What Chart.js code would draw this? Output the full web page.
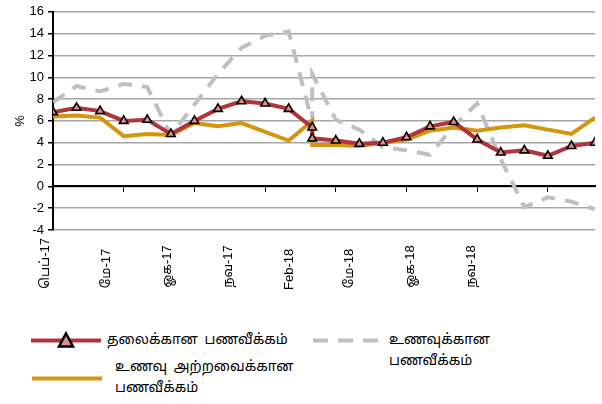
<!DOCTYPE html>
<html>
<head>
<meta charset="utf-8">
<script src="https://cdn.jsdelivr.net/npm/chart.js@4.4.1/dist/chart.umd.min.js"></script>
<style>
  body { margin: 0; background: #fff; }
  #wrap { position: relative; width: 602px; height: 404px; font-family: 'Noto Sans Tamil', 'Latha', 'Liberation Sans', sans-serif; }
  #chart { position: absolute; left: 0; top: 0; }
  .item { position: absolute; display: flex; font-size: 14px; color: #000; line-height: 21px; word-spacing: 3px; }
  .item svg { flex: none; }
</style>
</head>
<body>
<div id="wrap">
  <canvas id="chart" width="602" height="300"></canvas>
  <div id="legend"></div>
</div>
<script>
// observation months (Jan-18 appears twice: old and new index base)
const obsMonths = [
  '2017-02', '2017-03', '2017-04', '2017-05', '2017-06', '2017-07', '2017-08',
  '2017-09', '2017-10', '2017-11', '2017-12', '2018-01', '2018-01', '2018-02',
  '2018-03', '2018-04', '2018-05', '2018-06', '2018-07', '2018-08', '2018-09',
  '2018-10', '2018-11', '2018-12', '2019-01'
];
const headline = [6.8, 7.2, 6.9, 6.0, 6.1, 4.8, 6.0, 7.1, 7.8, 7.6, 7.1, 5.4, 4.4, 4.2, 3.9, 4.0, 4.5, 5.5, 5.9, 4.3, 3.1, 3.3, 2.8, 3.7, 4.0];
const food = [7.7, 9.2, 8.7, 9.4, 9.1, 4.7, 7.5, 10.3, 12.7, 13.8, 14.2, 5.9, 10.3, 6.1, 5.2, 3.6, 3.3, 2.9, 5.5, 7.6, 2.5, -1.9, -1.0, -1.4, -2.1];
const nonFood = [6.4, 6.5, 6.3, 4.6, 4.8, 4.7, 5.8, 5.5, 5.8, 5.0, 4.2, 6.0, 3.8, 3.8, 3.7, 4.0, 4.3, 5.1, 5.4, 5.1, 5.4, 5.6, 5.2, 4.8, 6.3];

const dateLabels = ['பெப்-17', 'மே-17', 'ஓக-17', 'நவ-17', 'Feb-18', 'மே-18', 'ஓக-18', 'நவ-18'];
const tickMonths = ['2017-05', '2017-08', '2017-11', '2018-02', '2018-05', '2018-08', '2018-11'];
const yTicks = { min: -4, max: 16, step: 2 };

const seriesNames = ['தலைக்கான பணவீக்கம்', 'உணவுக்கான பணவீக்கம்', 'உணவு அற்றவைக்கான பணவீக்கம்'];

function monthIndex(m) {
  const [y, mo] = m.split('-').map(Number);
  return (y - 2017) * 12 + (mo - 2);
}
const toPoints = vals => vals.map((v, i) => ({ x: monthIndex(obsMonths[i]), y: v }));

const tickFont = { family: "'Liberation Sans', 'Noto Sans Tamil', sans-serif", size: 13 };

// labels start at a common baseline in the original, so pad the short ones with trailing spaces
const measure = document.createElement('canvas').getContext('2d');
measure.font = `${tickFont.size}px ${tickFont.family}`;
const labelWidths = dateLabels.map(l => measure.measureText(l).width);
const widest = Math.max(...labelWidths);
const spaceW = measure.measureText(' ').width;
const paddedLabels = dateLabels.map((l, i) => l + ' '.repeat(Math.round((widest - labelWidths[i]) / spaceW)));

const ctx = document.getElementById('chart');
const chart = new Chart(ctx, {
  type: 'line',
  data: {
    datasets: [
      {
        label: seriesNames[0],
        data: toPoints(headline),
        borderColor: '#b0343c',
        borderWidth: 4,
        pointStyle: 'triangle',
        pointRadius: 5,
        pointBackgroundColor: '#dc908c',
        pointBorderColor: '#000',
        pointBorderWidth: 1.6,
        order: 0
      },
      {
        label: seriesNames[1],
        data: toPoints(food),
        borderColor: '#bfbfbf',
        borderWidth: 4,
        borderDash: [14, 10],
        pointRadius: 0,
        order: 2
      },
      {
        label: seriesNames[2],
        data: toPoints(nonFood),
        borderColor: '#d4960f',
        borderWidth: 4,
        pointRadius: 0,
        order: 1
      }
    ]
  },
  options: {
    responsive: false,
    animation: false,
    devicePixelRatio: 1,
    layout: { padding: { left: 0, right: 7, top: 10, bottom: 0 } },
    plugins: { legend: { display: false }, tooltip: { enabled: false } },
    scales: {
      x: {
        type: 'linear',
        min: 0,
        max: monthIndex(obsMonths[obsMonths.length - 1]),
        position: { y: 0 },
        afterBuildTicks: s => { s.ticks = tickMonths.map(m => ({ value: monthIndex(m) })); },
        ticks: { display: false },
        grid: { drawOnChartArea: false, color: '#000', tickLength: 5, lineWidth: 1 },
        border: { color: '#000', width: 2 }
      },
      xl: {
        type: 'linear',
        position: 'bottom',
        min: 0.13,
        max: 9.02,
        afterBuildTicks: s => { s.ticks = dateLabels.map((_, i) => ({ value: i })); },
        afterFit: s => { s.height = 70; },
        ticks: {
          autoSkip: false,
          minRotation: 90,
          maxRotation: 90,
          padding: 8,
          color: '#000',
          font: tickFont,
          callback: v => paddedLabels[v] ?? ''
        },
        grid: { display: false, drawTicks: false },
        border: { display: false }
      },
      y: {
        min: yTicks.min,
        max: yTicks.max,
        afterFit: s => { s.width = 53; },
        ticks: { stepSize: yTicks.step, color: '#000', font: tickFont, padding: 4 },
        grid: { color: '#a6a6a6', lineWidth: 1.5, tickLength: 5, tickColor: '#000' },
        border: { color: '#000', width: 2 },
        title: { display: true, text: '%', color: '#000', font: tickFont, padding: { top: 13, bottom: 0 } }
      }
    }
  }
});

// legend, drawn as html under the canvas
const legendSlots = [
  { left: 31, top: 330, swatch: 70, gap: 6, width: 230, align: 'flex-start' },
  { left: 313, top: 330, swatch: 66, gap: 10, width: 110, align: 'flex-start' },
  { left: 32, top: 357, swatch: 70, gap: 13, width: 190, align: 'center' }
];

function swatchSvg(ds, w) {
  const dash = ds.borderDash ? 'stroke-dasharray="15 10"' : '';
  let svg = `<svg width="${w}" height="21"><line x1="0" y1="10.5" x2="${w}" y2="10.5" stroke="${ds.borderColor}" stroke-width="4" ${dash}/>`;
  if (ds.pointStyle === 'triangle') {
    const cx = w / 2;
    svg += `<polygon points="${cx},3.5 ${cx + 7},16.5 ${cx - 7},16.5" fill="${ds.pointBackgroundColor}" stroke="#000" stroke-width="2.5" stroke-linejoin="miter"/>`;
  }
  return svg + '</svg>';
}

const legend = document.getElementById('legend');
chart.data.datasets.forEach((ds, i) => {
  const s = legendSlots[i];
  const el = document.createElement('div');
  el.className = 'item';
  el.style.left = s.left + 'px';
  el.style.top = s.top + 'px';
  el.style.alignItems = s.align;
  el.innerHTML = swatchSvg(ds, s.swatch) +
    `<div style="margin-left:${s.gap}px;width:${s.width}px">${ds.label}</div>`;
  legend.appendChild(el);
});
</script>
</body>
</html>
